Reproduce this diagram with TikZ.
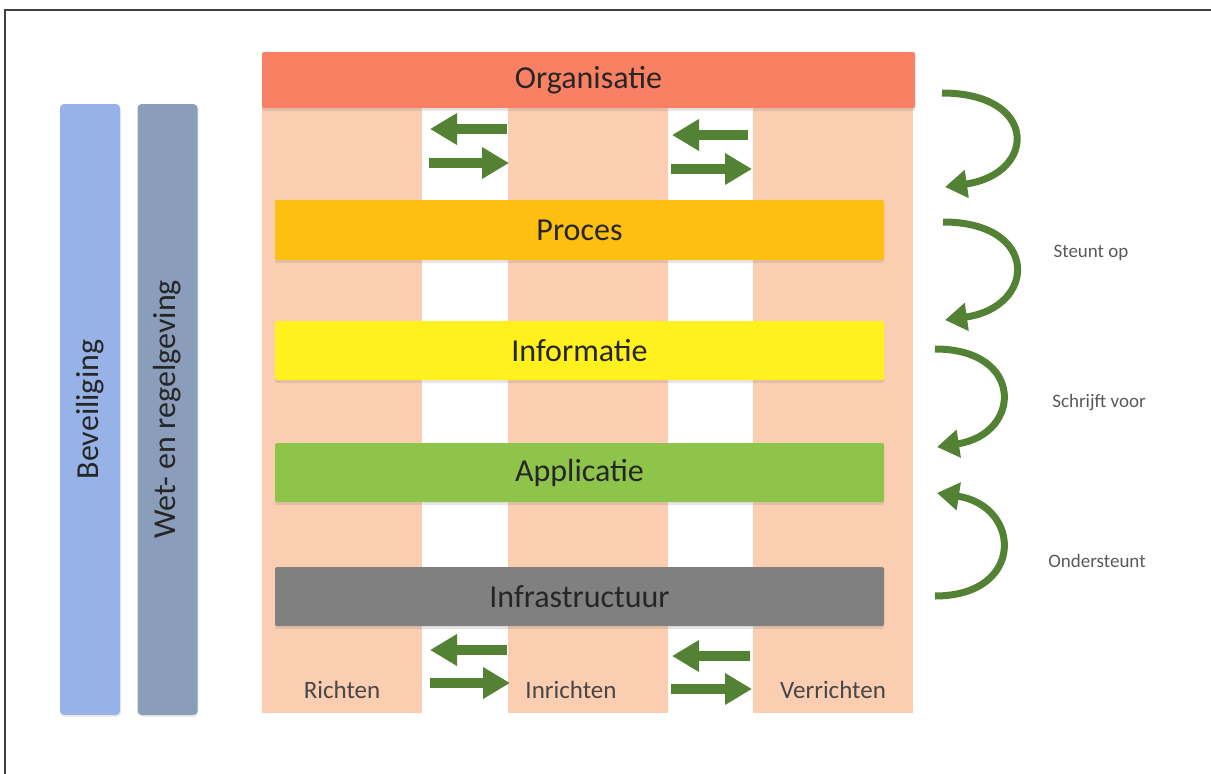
\documentclass[tikz,border=0pt]{standalone}
\usepackage{fontspec}
\setmainfont{Carlito}
\usetikzlibrary{arrows.meta,shadows}

\definecolor{peach}{HTML}{FBCEB2}
\definecolor{orgred}{HTML}{FA8064}
\definecolor{procamber}{HTML}{FDC010}
\definecolor{infoyellow}{HTML}{FFF01E}
\definecolor{appgreen}{HTML}{8EC44A}
\definecolor{infragray}{HTML}{808080}
\definecolor{bevblue}{HTML}{97B2E6}
\definecolor{wetblue}{HTML}{8A9DBA}
\definecolor{arrowgreen}{HTML}{548235}
\definecolor{textdark}{HTML}{262626}

\begin{document}
\begin{tikzpicture}[
x=1pt, y=-1pt,
layer/.style={
rounded corners=2pt,
minimum width=609pt,
minimum height=60pt,
text=textdark,
font=\fontsize{32}{38}\selectfont,
drop shadow={opacity=0.2, shadow xshift=0pt, shadow yshift=-3pt}
},
column/.style={
fill=peach,
minimum width=160pt,
minimum height=633pt,
inner sep=0pt
},
sidebar/.style={
rounded corners=4pt,
rotate=90,
minimum width=611pt,
minimum height=60pt,
text=textdark,
font=\fontsize{32}{38}\selectfont,
drop shadow={opacity=0.15, shadow xshift=1pt, shadow yshift=-2pt}
},
colname/.style={
text=textdark!85,
font=\fontsize{25}{30}\selectfont
},
note/.style={
text=black!65,
font=\fontsize{19}{23}\selectfont
},
flow/.style={
draw=arrowgreen,
line width=10pt,
-{Triangle[length=27pt,width=30pt]}
},
turnarrow/.style={
draw=arrowgreen,
line width=7pt,
-{Triangle[length=22pt,width=27pt]}
}
]

\useasboundingbox (0,0) rectangle (1211,774);

% frame
\draw[black!75, line width=1.5pt] (1211,10) -- (5,10) -- (5,774);

% side bars
\node[sidebar, fill=bevblue] (bev) at (90,409.5)
{Beveiliging};

\node[sidebar, fill=wetblue] (wet) at (167.5,409.5)
{Wet- en regelgeving};

% columns
\node[column] (c1) at (342,396.5) {};
\node[column] (c2) at (588,396.5) {};
\node[column] (c3) at (833,396.5) {};

\node[colname] (r1) at (342,690)
{Richten};

\node[colname] (r2) at (571,690)
{Inrichten};

\node[colname] (r3) at (833,690)
{Verrichten};

% layers
\node[layer, fill=orgred, minimum width=653pt, minimum height=56pt] (org) at (588.5,80)
{Organisatie};

\node[layer, fill=procamber] (proc) at (579.5,230)
{Proces};

\node[layer, fill=infoyellow, minimum height=59pt] (info) at (579.5,350.5)
{Informatie};

\node[layer, fill=appgreen, minimum height=59pt] (app) at (579.5,472.5)
{Applicatie};

\node[layer, fill=infragray, minimum height=59pt] (infra) at (579.5,596.5)
{Infrastructuur};

% arrows between columns
\coordinate (a1) at (507,129); \coordinate (a2) at (430,129);
\coordinate (a3) at (429,163); \coordinate (a4) at (509,163);
\coordinate (a5) at (748,135); \coordinate (a6) at (672,135);
\coordinate (a7) at (671,169); \coordinate (a8) at (752,169);

\coordinate (b1) at (507,650); \coordinate (b2) at (430,650);
\coordinate (b3) at (430,683); \coordinate (b4) at (510,683);
\coordinate (b5) at (750,656); \coordinate (b6) at (672,656);
\coordinate (b7) at (671,689); \coordinate (b8) at (752,689);

\draw[flow] (a1) -- (a2);
\draw[flow] (a3) -- (a4);
\draw[flow] (a5) -- (a6);
\draw[flow] (a7) -- (a8);
\draw[flow] (b1) -- (b2);
\draw[flow] (b3) -- (b4);
\draw[flow] (b5) -- (b6);
\draw[flow] (b7) -- (b8);

% arrows between layers
\coordinate (u1) at (942,93); \coordinate (d1) at (945,187);
\coordinate (u2) at (943,222); \coordinate (d2) at (945,320);
\coordinate (u3) at (935,349); \coordinate (d3) at (937,447);
\coordinate (u4) at (935,596); \coordinate (d4) at (937,493);

\draw[turnarrow] (u1) .. controls +(97,0) and +(92,-13) .. (d1);
\draw[turnarrow] (u2) .. controls +(97,0) and +(92,-13) .. (d2);
\draw[turnarrow] (u3) .. controls +(90,0) and +(85,-13) .. (d3);
\draw[turnarrow] (u4) .. controls +(90,0) and +(85,13) .. (d4);

\node[note] (n1) at (1091,253)
{Steunt op};

\node[note] (n2) at (1099,403)
{Schrijft voor};

\node[note] (n3) at (1097,561)
{Ondersteunt};

\end{tikzpicture}
\end{document}
